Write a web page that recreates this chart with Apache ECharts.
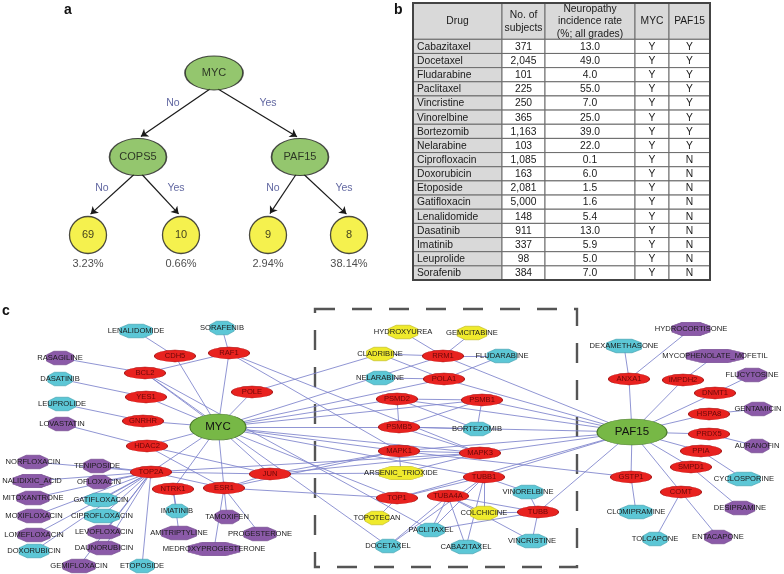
<!DOCTYPE html>
<html><head><meta charset="utf-8">
<script src="https://cdn.jsdelivr.net/npm/echarts@6/dist/echarts.min.js"></script>
<style>html,body{margin:0;padding:0;background:#fff}#c{width:784px;height:574px}</style>
</head><body><div id="c"></div>
<script>
// ================= DATA =================
// (a) decision tree
const treeNodes = ['MYC', 'COPS5', 'PAF15', '69', '10', '9', '8'];
const treeLeaves = ['69', '10', '9', '8'];
const treeEdges = [['MYC','COPS5','No'], ['MYC','PAF15','Yes'], ['COPS5','69','No'], ['COPS5','10','Yes'], ['PAF15','9','No'], ['PAF15','8','Yes']];
const leafRates = ['3.23%', '0.66%', '2.94%', '38.14%'];

// (b) table
const tableHeader = ['Drug', 'No. of\nsubjects', 'Neuropathy\nincidence rate\n(%; all grades)', 'MYC', 'PAF15'];
const tableDrugs = ['Cabazitaxel','Docetaxel','Fludarabine','Paclitaxel','Vincristine','Vinorelbine','Bortezomib','Nelarabine','Ciprofloxacin','Doxorubicin','Etoposide','Gatifloxacin','Lenalidomide','Dasatinib','Imatinib','Leuprolide','Sorafenib'];
const tableSubjects = ['371','2,045','101','225','250','365','1,163','103','1,085','163','2,081','5,000','148','911','337','98','384'];
const tableIncidence = ['13.0','49.0','4.0','55.0','7.0','25.0','39.0','22.0','0.1','6.0','1.5','1.6','5.4','13.0','5.9','5.0','7.0'];
const tableMYC = ['Y','Y','Y','Y','Y','Y','Y','Y','Y','Y','Y','Y','Y','Y','Y','Y','Y'];
const tablePAF15 = ['Y','Y','Y','Y','Y','Y','Y','Y','N','N','N','N','N','N','N','N','N'];

// (c) network
const hubNodes = ['MYC', 'PAF15'];
const geneNodes = ['CDH5','RAF1','BCL2','POLE','YES1','GNRHR','HDAC2','TOP2A','NTRK1','ESR1','JUN',
  'RRM1','POLA1','PSMD2','PSMB1','PSMB5','MAPK1','MAPK3','TUBB1','TOP1','TUBA4A','TUBB',
  'ANXA1','IMPDH2','DNMT1','HSPA8','PRDX5','PPIA','SMPD1','GSTP1','COMT'];
const cyanDrugs = ['LENALIDOMIDE','SORAFENIB','DASATINIB','LEUPROLIDE','GATIFLOXACIN','CIPROFLOXACIN','IMATINIB','DOXORUBICIN','ETOPOSIDE',
  'FLUDARABINE','NELARABINE','BORTEZOMIB','VINORELBINE','PACLITAXEL','VINCRISTINE','DOCETAXEL','CABAZITAXEL',
  'DEXAMETHASONE','CYCLOSPORINE','CLOMIPRAMINE','TOLCAPONE'];
const purpleDrugs = ['RASAGILINE','LOVASTATIN','NORFLOXACIN','TENIPOSIDE','NALIDIXIC_ACID','OFLOXACIN','MITOXANTRONE','MOXIFLOXACIN',
  'LOMEFLOXACIN','LEVOFLOXACIN','AMITRIPTYLINE','TAMOXIFEN','PROGESTERONE','DAUNORUBICIN','MEDROXYPROGESTERONE','GEMIFLOXACIN',
  'HYDROCORTISONE','MYCOPHENOLATE_MOFETIL','FLUCYTOSINE','GENTAMICIN','AURANOFIN','DESIPRAMINE','ENTACAPONE'];
const yellowDrugs = ['HYDROXYUREA','GEMCITABINE','CLADRIBINE','ARSENIC_TRIOXIDE','TOPOTECAN','COLCHICINE'];
const netLinks = [
  ['MYC','CDH5'],['MYC','RAF1'],['MYC','BCL2'],['MYC','POLE'],['MYC','YES1'],['MYC','GNRHR'],['MYC','HDAC2'],['MYC','TOP2A'],
  ['MYC','NTRK1'],['MYC','ESR1'],['MYC','JUN'],['MYC','RRM1'],['MYC','POLA1'],['MYC','PSMD2'],['MYC','PSMB1'],['MYC','PSMB5'],
  ['MYC','MAPK1'],['MYC','MAPK3'],['MYC','TOP1'],['MYC','TUBB1'],
  ['PAF15','ANXA1'],['PAF15','IMPDH2'],['PAF15','DNMT1'],['PAF15','HSPA8'],['PAF15','PRDX5'],['PAF15','PPIA'],['PAF15','SMPD1'],
  ['PAF15','GSTP1'],['PAF15','COMT'],['PAF15','TUBB'],['PAF15','RRM1'],['PAF15','POLA1'],['PAF15','PSMB1'],['PAF15','PSMD2'],
  ['PAF15','PSMB5'],['PAF15','MAPK1'],['PAF15','MAPK3'],['PAF15','TUBB1'],['PAF15','TOP1'],
  ['RAF1','BCL2'],['RAF1','MAPK1'],['RAF1','MAPK3'],['HDAC2','ESR1'],['HDAC2','JUN'],['TOP2A','JUN'],['TOP2A','ESR1'],['TOP2A','MAPK3'],
  ['ESR1','JUN'],['JUN','MAPK1'],['JUN','MAPK3'],['ESR1','MAPK1'],['ESR1','TOP1'],['PSMD2','PSMB1'],['PSMD2','PSMB5'],['PSMB1','PSMB5'],
  ['PSMB5','MAPK3'],['MAPK1','MAPK3'],['MAPK1','GSTP1'],['TOP1','TUBB1'],['TUBA4A','TUBB'],
  ['LENALIDOMIDE','CDH5'],['SORAFENIB','RAF1'],['RASAGILINE','BCL2'],['DASATINIB','YES1'],['LEUPROLIDE','GNRHR'],['LOVASTATIN','HDAC2'],
  ['NORFLOXACIN','TOP2A'],['TENIPOSIDE','TOP2A'],['NALIDIXIC_ACID','TOP2A'],['OFLOXACIN','TOP2A'],['MITOXANTRONE','TOP2A'],
  ['GATIFLOXACIN','TOP2A'],['MOXIFLOXACIN','TOP2A'],['CIPROFLOXACIN','TOP2A'],['LOMEFLOXACIN','TOP2A'],['LEVOFLOXACIN','TOP2A'],
  ['DOXORUBICIN','TOP2A'],['DAUNORUBICIN','TOP2A'],['GEMIFLOXACIN','TOP2A'],['ETOPOSIDE','TOP2A'],
  ['IMATINIB','NTRK1'],['AMITRIPTYLINE','NTRK1'],['TAMOXIFEN','ESR1'],['PROGESTERONE','ESR1'],['MEDROXYPROGESTERONE','ESR1'],
  ['BCL2','PACLITAXEL'],['BCL2','DOCETAXEL'],['POLE','CLADRIBINE'],
  ['HYDROXYUREA','RRM1'],['GEMCITABINE','RRM1'],['CLADRIBINE','RRM1'],['CLADRIBINE','POLA1'],['FLUDARABINE','RRM1'],['FLUDARABINE','POLA1'],
  ['NELARABINE','POLA1'],['BORTEZOMIB','PSMB1'],['BORTEZOMIB','PSMB5'],['BORTEZOMIB','PSMD2'],
  ['ARSENIC_TRIOXIDE','MAPK1'],['ARSENIC_TRIOXIDE','MAPK3'],['ARSENIC_TRIOXIDE','JUN'],['TOPOTECAN','TOP1'],
  ['PACLITAXEL','TUBB1'],['PACLITAXEL','TUBA4A'],['PACLITAXEL','TUBB'],['DOCETAXEL','TUBB1'],['DOCETAXEL','TUBA4A'],
  ['CABAZITAXEL','TUBB1'],['CABAZITAXEL','TUBA4A'],['COLCHICINE','TUBB1'],['COLCHICINE','TUBA4A'],['COLCHICINE','TUBB'],
  ['VINORELBINE','TUBB'],['VINORELBINE','TUBB1'],['VINCRISTINE','TUBB'],['VINCRISTINE','TUBA4A'],
  ['DEXAMETHASONE','ANXA1'],['HYDROCORTISONE','ANXA1'],['MYCOPHENOLATE_MOFETIL','IMPDH2'],['FLUCYTOSINE','DNMT1'],
  ['GENTAMICIN','HSPA8'],['AURANOFIN','PRDX5'],['CYCLOSPORINE','PPIA'],['DESIPRAMINE','SMPD1'],['CLOMIPRAMINE','GSTP1'],
  ['TOLCAPONE','COMT'],['ENTACAPONE','COMT']
];

// ================= LAYOUT (positions / sizes) =================
const treePos = {MYC:[214,73], COPS5:[138,157], PAF15:[300,157], '69':[88,235], '10':[181,235], '9':[268,235], '8':[349,235]};
const treeSize = {MYC:[58,34], COPS5:[57,37], PAF15:[57,37], '69':[37,37], '10':[37,37], '9':[37,37], '8':[37,37]};
const treeLabelPos = [[173,103],[268,103],[102,188],[176,188],[273,188],[344,188]];
const netPos = {
  MYC:[218,427], PAF15:[632,432],
  CDH5:[175,356], RAF1:[229,353], BCL2:[145,373], POLE:[252,392], YES1:[146,397], GNRHR:[143,421], HDAC2:[147,446],
  TOP2A:[151,472], NTRK1:[173,489], ESR1:[224,488], JUN:[270,474],
  RRM1:[443,356], POLA1:[444,379], PSMD2:[397,399], PSMB1:[482,400], PSMB5:[399,427], MAPK1:[399,451], MAPK3:[480,453],
  TUBB1:[484,477], TOP1:[397,498], TUBA4A:[448,496], TUBB:[538,512],
  ANXA1:[629,379], IMPDH2:[683,380], DNMT1:[715,393], HSPA8:[709,414], PRDX5:[709,434], PPIA:[701,451], SMPD1:[691,467],
  GSTP1:[631,477], COMT:[681,492],
  LENALIDOMIDE:[136,331], SORAFENIB:[222,328], DASATINIB:[60,379], LEUPROLIDE:[62,404], GATIFLOXACIN:[101,500],
  CIPROFLOXACIN:[102,516], IMATINIB:[177,511], DOXORUBICIN:[34,551], ETOPOSIDE:[142,566], FLUDARABINE:[502,356],
  NELARABINE:[380,378], BORTEZOMIB:[477,429], VINORELBINE:[528,492], PACLITAXEL:[431,530], VINCRISTINE:[532,541],
  DOCETAXEL:[388,546], CABAZITAXEL:[466,547], DEXAMETHASONE:[624,346], CYCLOSPORINE:[744,479], CLOMIPRAMINE:[636,512],
  TOLCAPONE:[655,539],
  RASAGILINE:[60,358], LOVASTATIN:[62,424], NORFLOXACIN:[33,462], TENIPOSIDE:[97,466], NALIDIXIC_ACID:[32,481],
  OFLOXACIN:[99,482], MITOXANTRONE:[33,498], MOXIFLOXACIN:[34,516], LOMEFLOXACIN:[34,535], LEVOFLOXACIN:[104,532],
  AMITRIPTYLINE:[179,533], TAMOXIFEN:[227,517], PROGESTERONE:[260,534], DAUNORUBICIN:[104,548],
  MEDROXYPROGESTERONE:[214,549], GEMIFLOXACIN:[79,566], HYDROCORTISONE:[691,329], MYCOPHENOLATE_MOFETIL:[715,356],
  FLUCYTOSINE:[752,375], GENTAMICIN:[758,409], AURANOFIN:[757,446], DESIPRAMINE:[740,508], ENTACAPONE:[718,537],
  HYDROXYUREA:[403,332], GEMCITABINE:[472,333], CLADRIBINE:[380,354], ARSENIC_TRIOXIDE:[401,473], TOPOTECAN:[377,518],
  COLCHICINE:[484,513]
};
const hubSize = {MYC:[56,26], PAF15:[70,26]};
const tableCols = [413, 502, 545, 635, 669, 710];
const tableTop = 3, tableHeadBottom = 39.3, tableRowH = 14.16;
const FONT = 'Liberation Sans, Arial, Helvetica, sans-serif';
const ELLIPSE = 'path://M0,50A50,50,0,1,1,100,50A50,50,0,1,1,0,50Z';
const OCTAGON = 'path://M27,0L73,0L100,27L100,73L73,100L27,100L0,73L0,27Z';
const CLEAR = 'rgba(255,255,255,0)';

// ================= BUILD =================
const chart = echarts.init(document.getElementById('c'), null, {renderer: 'canvas'});

// tree nodes
const treeNodeData = treeNodes.map(n => {
  const leaf = treeLeaves.indexOf(n) >= 0;
  return {
    name: n, value: treePos[n], symbolSize: treeSize[n],
    itemStyle: {color: leaf ? '#f3ee22' : '#79b84a', borderColor: '#1f1f1f', borderWidth: 1.3}
  };
});
const rateData = treeLeaves.map((n, i) => ({name: leafRates[i], value: treePos[n], symbolSize: treeSize[n]}));
// tree edges computed from node geometry
const ARROW = 7;
const treeEdgeData = treeEdges.map(([a, b]) => {
  const pa = treePos[a], pb = treePos[b];
  const dir = pb[0] < pa[0] ? -1 : 1;
  const s = [pa[0] + dir * 4, pa[1] + treeSize[a][1] / 2 - 1];
  let e = [pb[0], pb[1] - treeSize[b][1] / 2];
  const dx = e[0] - s[0], dy = e[1] - s[1], L = Math.hypot(dx, dy);
  e = [e[0] - dx / L * ARROW / 2, e[1] - dy / L * ARROW / 2];
  return {coords: [s, e]};
});
const treeLabelData = treeEdges.map((t, i) => ({name: t[2], value: treeLabelPos[i]}));

// table rows
const tableRows = [tableHeader];
tableDrugs.forEach((d, i) => tableRows.push([d, tableSubjects[i], tableIncidence[i], tableMYC[i], tablePAF15[i]]));

// network nodes
function octW(name) { return Math.max(20, name.length * 2.7); }
const netNodes = [];
hubNodes.forEach(n => netNodes.push({
  name: n, value: netPos[n], symbol: ELLIPSE, symbolSize: hubSize[n],
  itemStyle: {color: '#77b846', borderColor: '#4a7a2a', borderWidth: 0.8},
  label: {fontSize: 11.5, color: '#111'}
}));
geneNodes.forEach(n => netNodes.push({
  name: n, value: netPos[n], symbol: ELLIPSE, symbolSize: [41, 12],
  itemStyle: {color: '#e8221f', borderColor: '#a51212', borderWidth: 0.6},
  label: {fontSize: 7.6, color: '#6a0808'}
}));
const drugColors = [[cyanDrugs, '#5cc7d6', '#3e9fae'], [purpleDrugs, '#8b5aa8', '#6d4388'], [yellowDrugs, '#efea2c', '#bdb71c']];
drugColors.forEach(([list, c, bc]) => list.forEach(n => netNodes.push({
  name: n, value: netPos[n], symbol: OCTAGON, symbolSize: [octW(n), 13.5],
  itemStyle: {color: c, borderColor: bc, borderWidth: 0.6},
  label: {fontSize: 7.6, color: '#1a1a1a'}
})));
const netEdgeData = netLinks.map(([s, t]) => ({source: s, target: t}));

const option = {
  animation: false,
  backgroundColor: '#fff',
  grid: {left: 0, right: 0, top: 0, bottom: 0, containLabel: false},
  xAxis: {type: 'value', min: 0, max: 784, show: false},
  yAxis: {type: 'value', min: 0, max: 574, inverse: true, show: false},
  graphic: [
    {type: 'text', left: 64, top: 3, style: {text: 'a', font: 'bold 14px ' + FONT, fill: '#111'}},
    {type: 'text', left: 394, top: 3, style: {text: 'b', font: 'bold 14px ' + FONT, fill: '#111'}},
    {type: 'text', left: 2, top: 304, style: {text: 'c', font: 'bold 14px ' + FONT, fill: '#111'}},
    {type: 'rect', z: 1, shape: {x: 315, y: 309, width: 262, height: 258},
     style: {fill: 'none', stroke: '#555', lineWidth: 2.4, lineDash: [20, 17]}},
    {type: 'rect', z: 10, shape: {x: tableCols[0], y: tableTop, width: tableCols[5] - tableCols[0], height: tableHeadBottom - tableTop + tableRowH * tableDrugs.length},
     style: {fill: 'none', stroke: '#444', lineWidth: 2}}
  ],
  series: [
    // tree edges
    {type: 'lines', coordinateSystem: 'cartesian2d', silent: true, z: 3,
     symbol: ['none', 'arrow'], symbolSize: ARROW,
     lineStyle: {color: '#1a1a1a', width: 1.2, opacity: 1, curveness: 0},
     data: treeEdgeData},
    // tree nodes
    {type: 'scatter', symbol: ELLIPSE, silent: true, z: 4, data: treeNodeData,
     label: {show: true, position: 'inside', formatter: '{b}', fontSize: 11, fontFamily: FONT, color: '#111'}},
    // leaf rates
    {type: 'scatter', symbol: 'circle', silent: true, z: 4, data: rateData,
     itemStyle: {color: CLEAR},
     label: {show: true, position: 'bottom', distance: 5, formatter: '{b}', fontSize: 11, fontFamily: FONT, color: '#222'}},
    // edge labels (Yes / No)
    {type: 'scatter', symbol: 'circle', symbolSize: 2, silent: true, z: 4, data: treeLabelData,
     itemStyle: {color: CLEAR},
     label: {show: true, position: 'inside', formatter: '{b}', fontSize: 10.5, fontFamily: FONT, color: '#3a418a'}},
    // table
    {type: 'custom', silent: true, z: 5,
     data: tableRows.map((r, i) => [i, 0]),
     renderItem: function (params, api) {
       const r = api.value(0);
       const head = r === 0;
       const y0 = head ? tableTop : tableHeadBottom + (r - 1) * tableRowH;
       const y1 = head ? tableHeadBottom : y0 + tableRowH;
       const cells = tableRows[r];
       const children = [];
       for (let c = 0; c < 5; c++) {
         const p0 = api.coord([tableCols[c], y0]);
         const p1 = api.coord([tableCols[c + 1], y1]);
         const gray = head || c === 0;
         children.push({type: 'rect', shape: {x: p0[0], y: p0[1], width: p1[0] - p0[0], height: p1[1] - p0[1]},
           style: {fill: gray ? '#d9d9d9' : '#fff', stroke: '#6a6a6a', lineWidth: 1}});
         const left = c === 0 && !head;
         children.push({type: 'text', style: {
           text: cells[c], x: left ? p0[0] + 4 : (p0[0] + p1[0]) / 2, y: (p0[1] + p1[1]) / 2 + 0.5,
           align: left ? 'left' : 'center', verticalAlign: 'middle', lineHeight: 12.5,
           font: '10.3px ' + FONT, fill: '#1a1a1a'}});
       }
       return {type: 'group', children: children};
     }},
    // network
    {type: 'graph', coordinateSystem: 'cartesian2d', layout: 'none', silent: true, z: 6,
     data: netNodes, links: netEdgeData,
     lineStyle: {color: '#7d82cb', width: 1, opacity: 0.85, curveness: 0},
     label: {show: true, position: 'inside', fontFamily: FONT},
     emphasis: {disabled: true}}
  ]
};
chart.setOption(option);
</script>
</body></html>
